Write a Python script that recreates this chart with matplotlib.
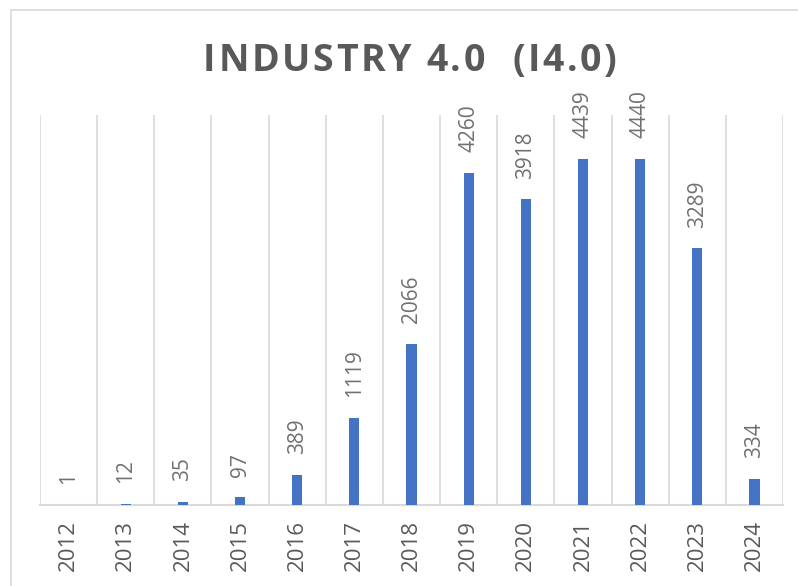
import matplotlib
matplotlib.use("Agg")
import matplotlib.pyplot as plt
import matplotlib.patches as patches
import numpy as np

years = ["2012", "2013", "2014", "2015", "2016", "2017", "2018",
         "2019", "2020", "2021", "2022", "2023", "2024"]
counts = [1, 12, 35, 97, 389, 1119, 2066, 4260, 3918, 4439, 4440, 3289, 334]
title = "INDUSTRY 4.0  (I4.0)"

bar_color = "#4472C4"
grid_color = "#D9D9D9"
text_color = "#595959"
label_color = "#707070"

W, H = 798, 586
fig = plt.figure(figsize=(W / 100, H / 100), dpi=100)

# outer chart frame (cropped on the right and bottom like the reference)
fig.add_artist(patches.Rectangle((11 / W, -0.05), 1.0, 1 - 10 / H + 0.05,
                                 transform=fig.transFigure, fill=False,
                                 edgecolor=grid_color, linewidth=1.2))

ax = fig.add_axes([40 / W, 1 - 505 / H, (783 - 40) / W, (505 - 115) / H])
x = np.arange(len(years))
ax.bar(x, counts, width=0.18, color=bar_color, zorder=3)

ax.set_xlim(-0.5, len(years) - 0.5)
ax.set_ylim(0, 5000)
ax.set_yticks([])

ax.set_xticks(x)
ax.set_xticklabels(years, rotation=90, fontsize=16, color=text_color,
                   family="Open Sans")
ax.tick_params(axis="x", length=0, pad=11)

ax.set_xticks(np.arange(len(years) + 1) - 0.5, minor=True)
ax.tick_params(axis="x", which="minor", length=0)
ax.grid(axis="x", which="minor", color=grid_color, linewidth=1.2, zorder=0)
ax.grid(axis="x", which="major", visible=False)

for s in ["top", "right", "left"]:
    ax.spines[s].set_visible(False)
ax.spines["bottom"].set_color(grid_color)
ax.spines["bottom"].set_linewidth(1.5)

for xi, v in zip(x, counts):
    ax.annotate(str(v), (xi, v), xytext=(0, 15), textcoords="offset points",
                rotation=90, ha="center", va="bottom", fontsize=15,
                color=label_color, family="Open Sans")

# letter-spaced title spanning x = 203..617 px
renderer = fig.canvas.get_renderer()
tkw = dict(fontsize=27, fontweight="bold", family="Open Sans", color=text_color)


def text_width(s):
    t = fig.text(0, 0, s + "|", **tkw)
    w = t.get_window_extent(renderer).width
    t.remove()
    return w


bar_w = text_width("")
natural = text_width(title) - bar_w
spacing = (617 - 203 - natural) / (len(title) - 1)
for i, ch in enumerate(title):
    if ch == " ":
        continue
    left = 203 + (text_width(title[:i]) - bar_w) + i * spacing
    fig.text(left / W, 1 - 71 / H, ch, ha="left", va="baseline", **tkw)

fig.savefig("out.png", dpi=100)
